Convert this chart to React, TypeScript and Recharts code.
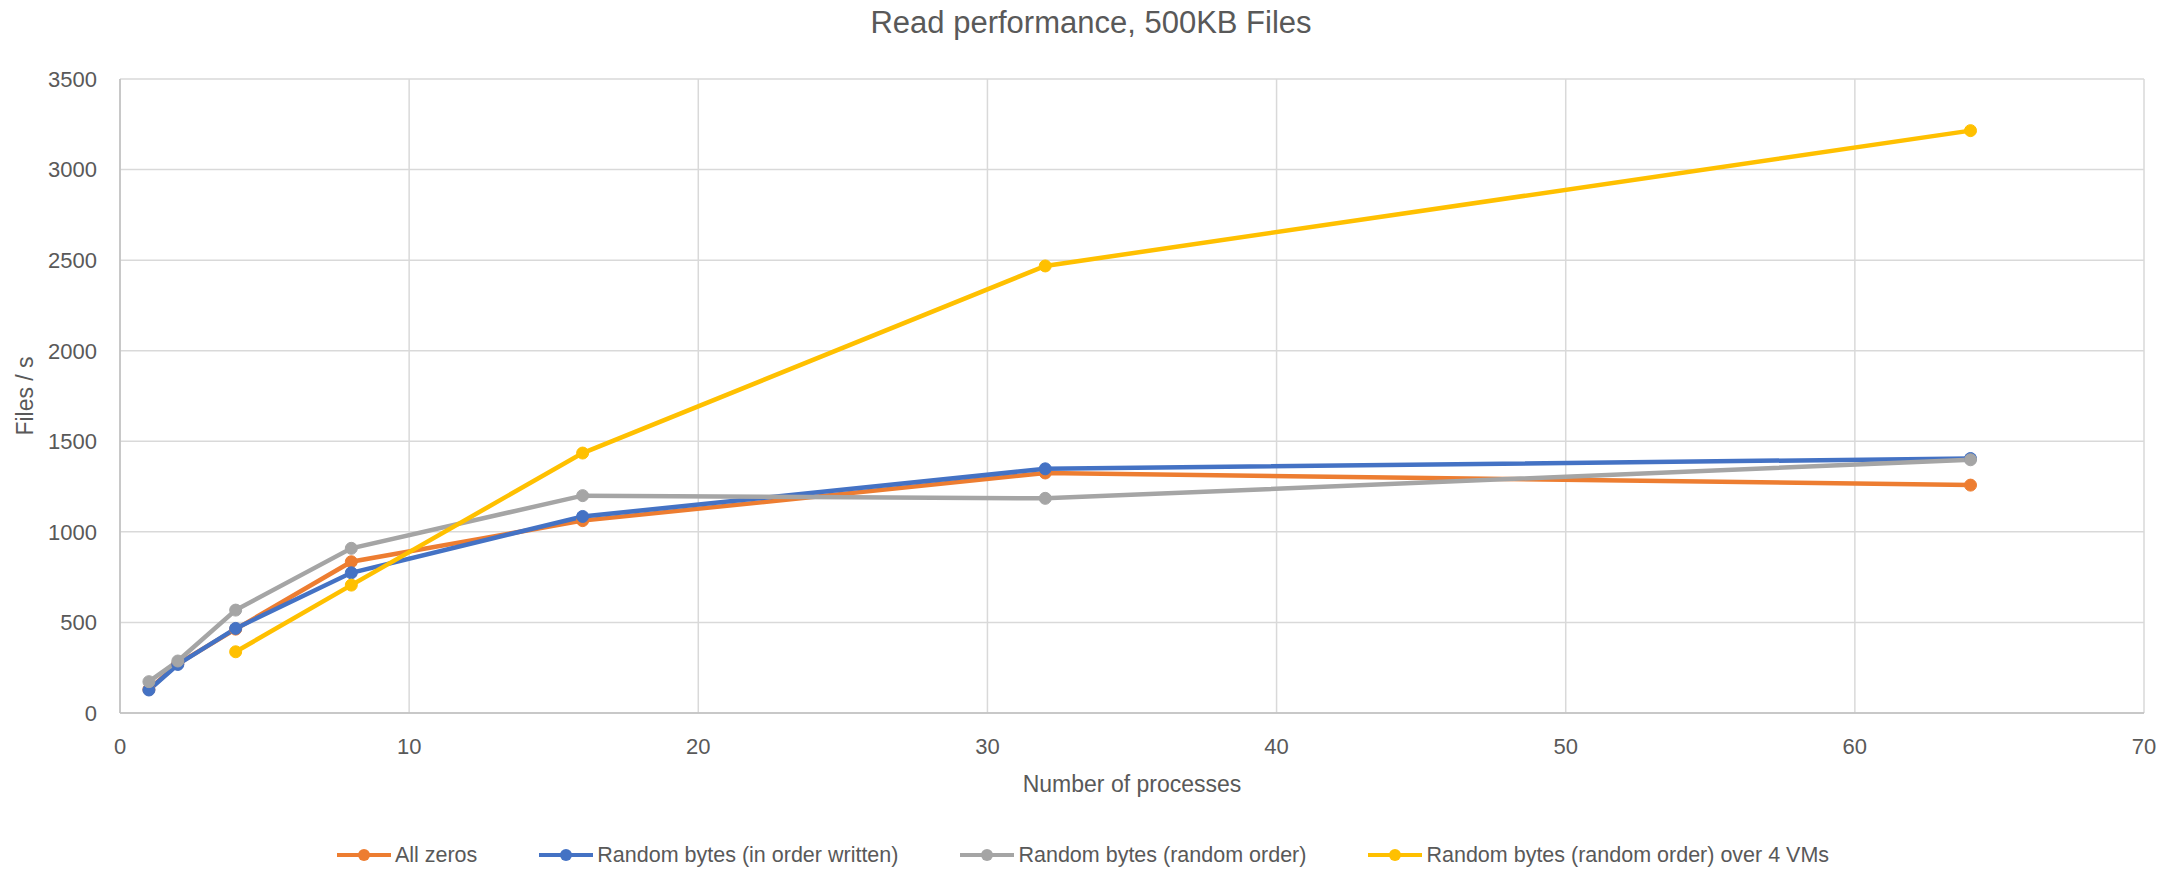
import React from 'react';
import { LineChart, Line, XAxis, YAxis, CartesianGrid, Legend } from 'recharts';

const processes = [1, 2, 4, 8, 16, 32, 64];
const allZeros = [130, 272, 463, 835, 1062, 1325, 1258];
const inOrderWritten = [127, 268, 467, 774, 1085, 1348, 1405];
const randomOrder = [173, 287, 568, 909, 1200, 1185, 1398];
const randomOrderVMs: (number | null)[] = [null, null, 338, 706, 1435, 2468, 3215];

const xTicks = [0, 10, 20, 30, 40, 50, 60, 70];
const yTicks = [0, 500, 1000, 1500, 2000, 2500, 3000, 3500];

const seriesNames = [
  'All zeros',
  'Random bytes (in order written)',
  'Random bytes (random order)',
  'Random bytes (random order) over 4 VMs',
];
const seriesKeys = ['zeros', 'inOrder', 'randomOrder', 'vms'];
const seriesColors = ['#ED7D31', '#4472C4', '#A5A5A5', '#FFC000'];

const titleText = 'Read performance, 500KB Files';
const xTitle = 'Number of processes';
const yTitle = 'Files / s';

const data = processes.map((x, i) => ({
  x,
  zeros: allZeros[i],
  inOrder: inOrderWritten[i],
  randomOrder: randomOrder[i],
  vms: randomOrderVMs[i] === null ? undefined : randomOrderVMs[i],
}));

const FONT = '"Liberation Sans", Arial, sans-serif';
const TEXT = '#595959';

const LegendContent = () => (
  <div
    style={{
      display: 'flex',
      justifyContent: 'center',
      alignItems: 'center',
      fontFamily: FONT,
      fontSize: 21.5,
      lineHeight: '24px',
      color: TEXT,
      whiteSpace: 'nowrap',
    }}
  >
    {seriesNames.map((name, i) => (
      <div
        key={name}
        style={{ display: 'flex', alignItems: 'center', marginLeft: i === 0 ? 0 : 62 }}
      >
        <svg width={54} height={14} style={{ display: 'block' }}>
          <line x1={0} y1={7} x2={54} y2={7} stroke={seriesColors[i]} strokeWidth={4} />
          <circle cx={27} cy={7} r={6} fill={seriesColors[i]} />
        </svg>
        <span style={{ marginLeft: 4 }}>{name}</span>
      </div>
    ))}
  </div>
);

export default function App() {
  return (
    <div style={{ position: 'absolute', left: 0, top: 0, width: 2180, height: 869, background: '#fff' }}>
      <svg
        width={2180}
        height={60}
        style={{ position: 'absolute', left: 0, top: 0, pointerEvents: 'none' }}
      >
        <text x={1091} y={33} textAnchor="middle" fontFamily={FONT} fontSize={31} fill={TEXT}>
          {titleText}
        </text>
      </svg>
      <LineChart
        width={2180}
        height={869}
        data={data}
        margin={{ top: 79, right: 36, bottom: 56, left: 0 }}
        style={{ fontFamily: FONT }}
      >
        <CartesianGrid stroke="#D9D9D9" strokeWidth={1.5} />
        <XAxis
          dataKey="x"
          type="number"
          domain={[0, 70]}
          ticks={xTicks}
          interval={0}
          height={100}
          tickLine={false}
          tickSize={0}
          tickMargin={25}
          axisLine={{ stroke: '#BFBFBF', strokeWidth: 1.5 }}
          tick={{ fill: TEXT, fontSize: 22, fontFamily: FONT }}
          label={{
            value: xTitle,
            position: 'insideBottom',
            offset: 21,
            fill: TEXT,
            fontSize: 23,
            fontFamily: FONT,
          }}
        />
        <YAxis
          type="number"
          domain={[0, 3500]}
          ticks={yTicks}
          interval={0}
          width={120}
          tickLine={false}
          tickSize={0}
          tickMargin={23}
          axisLine={{ stroke: '#BFBFBF', strokeWidth: 1.5 }}
          tick={{ fill: TEXT, fontSize: 22, fontFamily: FONT }}
          label={{
            value: yTitle,
            angle: -90,
            position: 'insideLeft',
            offset: 25,
            fill: TEXT,
            fontSize: 23,
            fontFamily: FONT,
            style: { textAnchor: 'middle' },
          }}
        />
        <Legend
          layout="horizontal"
          verticalAlign="middle"
          align="center"
          content={<LegendContent />}
          wrapperStyle={{ top: 843, left: 0, width: 2166, height: 24 }}
        />
        {seriesKeys.map((key, i) => (
          <Line
            key={key}
            dataKey={key}
            name={seriesNames[i]}
            type="linear"
            stroke={seriesColors[i]}
            strokeWidth={4.5}
            dot={{ r: 6, fill: seriesColors[i], stroke: seriesColors[i], strokeWidth: 1 }}
            activeDot={false}
            isAnimationActive={false}
          />
        ))}
      </LineChart>
    </div>
  );
}
